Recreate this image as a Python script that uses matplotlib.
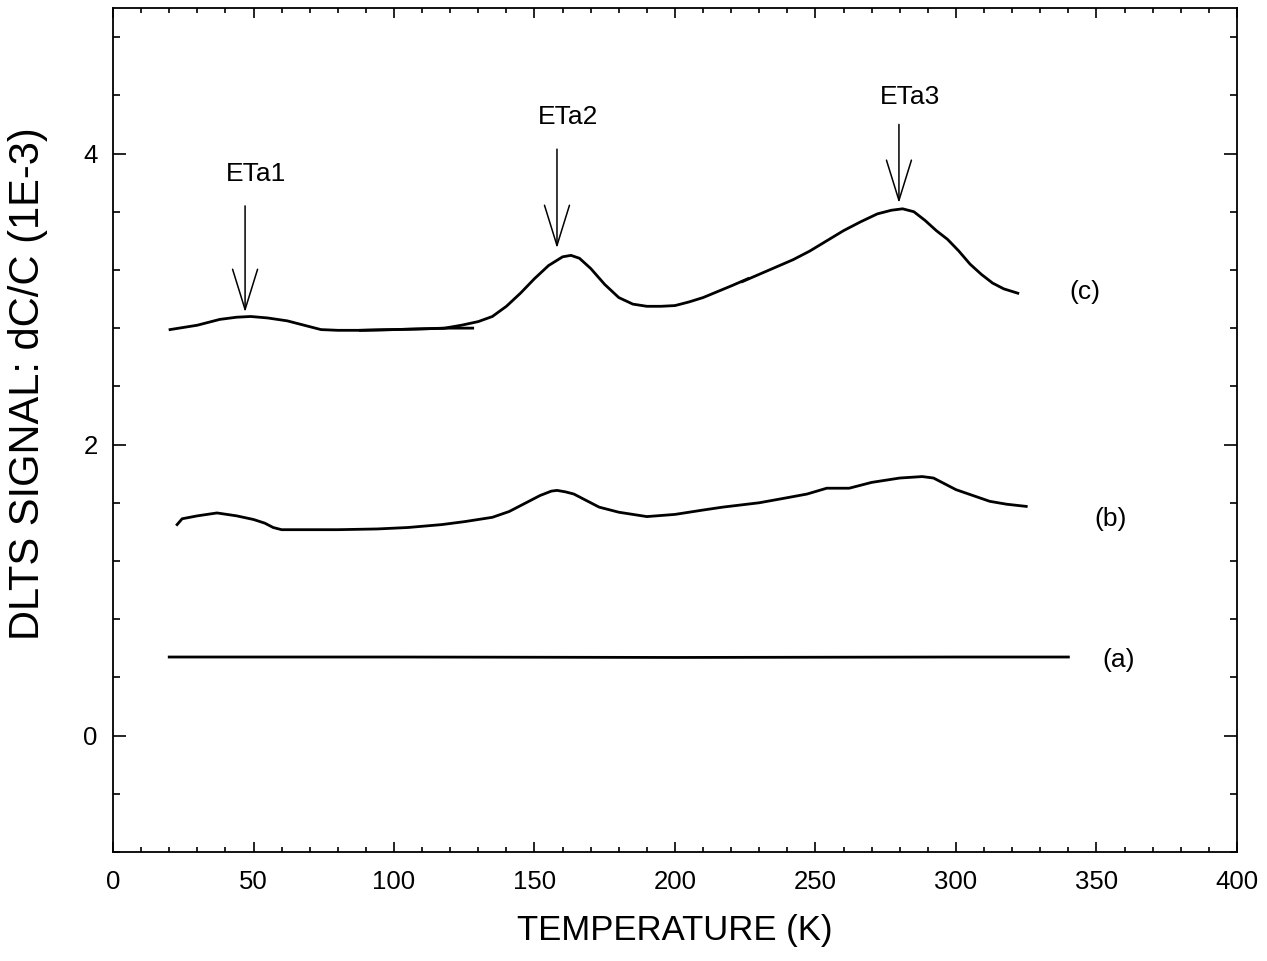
import matplotlib
matplotlib.use("Agg")
import matplotlib.pyplot as plt
from matplotlib.ticker import MultipleLocator

plt.rcParams['font.family'] = ['Liberation Sans', 'DejaVu Sans']

# curve (c): three overlapping scan pieces
c1_T = [20.3, 30, 38, 44, 49, 55, 62, 68, 74, 80, 88, 100, 110, 120, 128]
c1_y = [2.79, 2.82, 2.86, 2.875, 2.88, 2.87, 2.85, 2.82, 2.79, 2.785, 2.785, 2.79, 2.795, 2.80, 2.80]
c2_T = [88, 100, 110, 118, 124, 130, 135, 140, 145, 150, 155, 160, 163, 166, 170, 175,
        180, 185, 190, 195, 200, 205, 210, 215, 220, 226]
c2_y = [2.785, 2.79, 2.795, 2.80, 2.82, 2.845, 2.88, 2.95, 3.04, 3.14, 3.23, 3.29, 3.30, 3.28,
        3.21, 3.10, 3.01, 2.965, 2.95, 2.95, 2.955, 2.98, 3.01, 3.05, 3.09, 3.14]
c3_T = [224, 230, 236, 242, 248, 254, 260, 266, 272, 277, 281, 285, 289, 293, 297, 301,
        305, 309, 313, 317, 322]
c3_y = [3.12, 3.17, 3.22, 3.27, 3.33, 3.40, 3.47, 3.53, 3.585, 3.61, 3.62, 3.60, 3.54, 3.47,
        3.41, 3.33, 3.24, 3.17, 3.11, 3.07, 3.04]

# curve (b)
b_T = [22.8, 24.6, 30, 37, 44, 50, 54, 57, 60, 70, 80, 94, 105, 117, 125, 135, 141, 147,
       152, 156, 158, 161, 164, 168, 173, 180, 190, 200, 210, 217, 230, 240, 247, 254, 262,
       270, 280, 288, 292, 296, 300, 306, 312, 318, 325]
b_y = [1.45, 1.49, 1.51, 1.53, 1.51, 1.485, 1.46, 1.43, 1.415, 1.415, 1.415, 1.42, 1.43,
       1.45, 1.47, 1.50, 1.54, 1.60, 1.65, 1.68, 1.685, 1.675, 1.66, 1.62, 1.57, 1.535,
       1.505, 1.52, 1.55, 1.57, 1.60, 1.635, 1.66, 1.70, 1.70, 1.74, 1.77, 1.78, 1.77, 1.73,
       1.69, 1.65, 1.61, 1.59, 1.575]

# curve (a)
a_T = [20, 100, 200, 300, 340]
a_y = [0.54, 0.54, 0.537, 0.54, 0.54]

# peak markers: label, T, tip, tail, text y
peaks = [("ETa1", 47, 2.91, 3.64, 3.86),
         ("ETa2", 158, 3.35, 4.03, 4.25),
         ("ETa3", 279.7, 3.66, 4.20, 4.39)]
curve_labels = [("(c)", 346, 3.05), ("(b)", 355, 1.485), ("(a)", 358, 0.52)]

fig = plt.figure(figsize=(12.67, 9.61), dpi=100)
ax = fig.add_axes([0.0892, 0.1134, 0.8871, 0.8783])

for T, y in [(c1_T, c1_y), (c2_T, c2_y), (c3_T, c3_y), (b_T, b_y), (a_T, a_y)]:
    ax.plot(T, y, color='black', lw=2.0)

for name, T, tip, tail, ty in peaks:
    ax.annotate('', xy=(T, tip), xytext=(T, tail),
                arrowprops=dict(arrowstyle='->, head_length=2.9, head_width=0.9',
                                mutation_scale=10, lw=1.1, color='black',
                                shrinkA=0, shrinkB=0))
    ax.text(T + 4, ty, name, fontsize=19, ha='center', va='center')

for lab, T, y in curve_labels:
    ax.text(T, y, lab, fontsize=19, ha='center', va='center')

ax.set_xlim(0, 400)
ax.set_ylim(-0.8, 5.0)
ax.xaxis.set_major_locator(MultipleLocator(50))
ax.xaxis.set_minor_locator(MultipleLocator(10))
ax.yaxis.set_major_locator(MultipleLocator(2))
ax.yaxis.set_minor_locator(MultipleLocator(0.4))
ax.tick_params(which='both', direction='in', top=True, right=True, width=1.2)
ax.tick_params(axis='x', which='major', length=7, pad=13, labelsize=18.5)
ax.tick_params(axis='x', which='minor', length=3.6)
ax.tick_params(axis='y', which='major', length=9.5, pad=11, labelsize=18.5)
ax.tick_params(axis='y', which='minor', length=5)
for s in ax.spines.values():
    s.set_linewidth(1.3)

ax.set_xlabel("TEMPERATURE (K)", fontsize=25, labelpad=14)
ax.set_ylabel("DLTS SIGNAL: dC/C (1E-3)", fontsize=30)
ax.yaxis.set_label_coords(-0.058, 0.555)

fig.savefig("out.png", dpi=100)
